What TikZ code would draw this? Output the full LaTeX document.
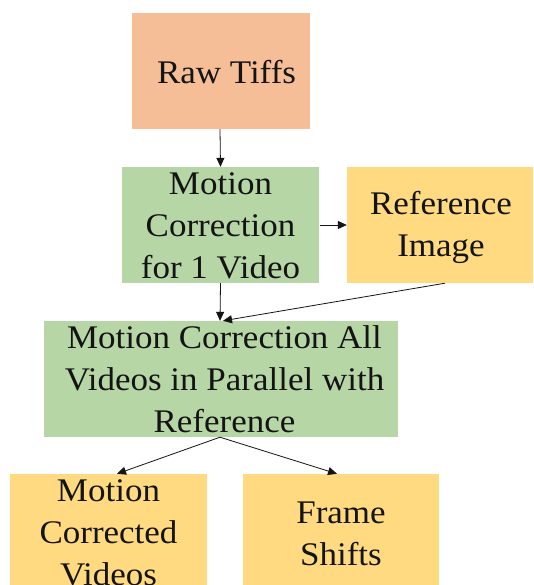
\documentclass[tikz,border=0pt]{standalone}
\usepackage{fontspec}
\setmainfont[FakeStretch=1.06]{Liberation Serif}
\usetikzlibrary{arrows.meta,calc}
\definecolor{salmon}{RGB}{245,190,150}
\definecolor{boxgreen}{RGB}{182,214,166}
\definecolor{boxgold}{RGB}{255,218,128}
\definecolor{inkc}{RGB}{20,20,20}
\tikzset{
  boxnode/.style={draw=none, inner sep=0pt, align=center, text=inkc,
    font=\fontsize{33pt}{42pt}\selectfont},
  flowarrow/.style={draw=inkc, line width=0.8pt, -{Triangle[length=9pt,width=8pt]}},
}
\begin{document}
\begin{tikzpicture}[x=1pt,y=-1pt]
\clip (0,0) rectangle (533,585);
\fill[white] (0,0) rectangle (533,585);
% boxes
\node[boxnode, fill=salmon, minimum width=178pt, minimum height=116pt] (rt) at (221,71) {};
\node[boxnode, fill=boxgreen, minimum width=197pt, minimum height=116pt] (mc1) at (220.5,225) {};
\node[boxnode, fill=boxgold, minimum width=186pt, minimum height=116pt] (ref) at (440,225) {};
\node[boxnode, fill=boxgreen, minimum width=354pt, minimum height=116pt] (mcall) at (221,379) {};
\node[boxnode, fill=boxgold, minimum width=197pt, minimum height=116pt] (mcv) at (108.5,532) {};
\node[boxnode, fill=boxgold, minimum width=196pt, minimum height=116pt] (fs) at (341,532) {};
% texts (anchored at the baseline of their last line)
\node[boxnode, anchor=base] (trt) at (226.5,83.3) {Raw Tiffs};
\node[boxnode, anchor=base] (tmc1) at (220.5,278) {Motion\\Correction\\for 1 Video};
\node[boxnode, anchor=base] (tref) at (441,256.5) {Reference\\Image};
\node[boxnode, anchor=base] (tmcall) at (224.5,432) {Motion Correction All\\Videos in Parallel with\\Reference};
\node[boxnode, anchor=base] (tmcv) at (108.5,585) {Motion\\Corrected\\Videos};
\node[boxnode, anchor=base] (tfs) at (341,565) {Frame\\Shifts};
% connectors
\draw[flowarrow] ($(rt.south)+(-1,0)$) -- (mc1.north);
\draw[flowarrow] ($(mc1.east)+(1,0)$) -- (ref.west);
\draw[flowarrow] (mc1.south) -- ($(mcall.north)+(-1,0)$);
\draw[flowarrow] ($(ref.south)+(5,0)$) -- ($(mcall.north)+(2,0)$);
\draw[flowarrow] ($(mcall.south)+(-1,0)$) -- ($(mcv.north)+(8.5,0)$);
\draw[flowarrow] ($(mcall.south)+(-1,0)$) -- ($(fs.north)+(-4,0)$);
\end{tikzpicture}
\end{document}
